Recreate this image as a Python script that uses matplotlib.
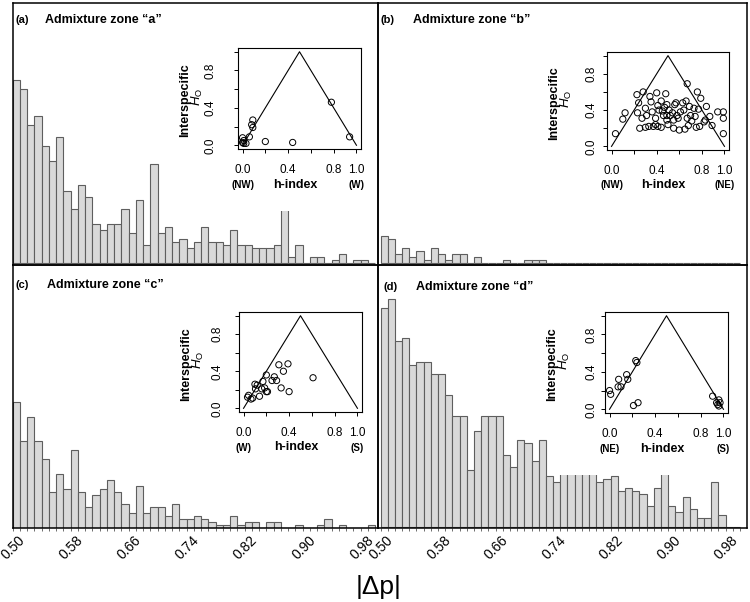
import numpy as np
import matplotlib
matplotlib.use("Agg")
import matplotlib.pyplot as plt
from matplotlib import transforms

plt.rcParams['font.family'] = ['Liberation Sans', 'DejaVu Sans']
plt.rcParams['mathtext.fontset'] = 'custom'
plt.rcParams['mathtext.rm'] = 'Liberation Sans'
plt.rcParams['mathtext.it'] = 'Liberation Sans:italic'

W, H = 750, 602

# |delta p| bins, 0.01 wide, from 0.50
bin_left = np.round(0.50 + 0.01 * np.arange(50), 2)

counts_a = [61, 58, 46, 49, 39, 34, 42, 24, 18, 26,
            22, 13, 11, 13, 13, 18, 10, 21, 6, 33,
            10, 12, 7, 8, 5, 7, 12, 7, 7, 6,
            11, 6, 6, 5, 5, 5, 6, 19, 2, 6,
            0, 2, 2, 0, 1, 3, 0, 1, 1, 0]
counts_b = [9, 8, 3, 5, 2, 4, 1, 5, 3, 1,
            3, 3, 0, 2, 0, 0, 0, 1, 0, 0,
            1, 1, 1, 0, 0, 0, 0, 0, 0, 0,
            0, 0, 0, 0, 0, 0, 0, 0, 0, 0,
            0, 0, 0, 0, 0, 0, 0, 0, 0, 0]
counts_c = [42, 29, 37, 29, 23, 12, 18, 13, 26, 12,
            7, 11, 13, 16, 12, 8, 5, 14, 5, 7,
            7, 4, 8, 3, 3, 4, 3, 2, 1, 1,
            4, 1, 2, 2, 0, 2, 2, 0, 0, 1,
            0, 0, 1, 3, 0, 1, 0, 0, 0, 1]
counts_d = [73, 76, 62, 63, 54, 55, 55, 51, 51, 44,
            37, 37, 19, 32, 37, 37, 37, 24, 20, 29,
            28, 22, 29, 17, 15, 21, 22, 21, 22, 20,
            15, 16, 17, 12, 13, 12, 11, 7, 13, 22,
            7, 5, 10, 6, 3, 3, 15, 4, 0, 0]

# triangle plots: h-index vs interspecific heterozygosity
h_a = [0.00, 0.01, 0.03, 0.01, 0.00, 0.06, 0.08, 0.09, 0.09, 0.20, 0.44, 0.78, 0.94]
ho_a = [0.03, 0.02, 0.02, 0.05, 0.08, 0.09, 0.22, 0.27, 0.19, 0.04, 0.03, 0.46, 0.09]

h_b = [0.035, 0.10, 0.12, 0.25, 0.225, 0.24, 0.23, 0.28, 0.27, 0.30, 0.31, 0.30, 0.33,
       0.34, 0.35, 0.36, 0.37, 0.39, 0.40, 0.41, 0.42, 0.44, 0.45, 0.46, 0.44, 0.48,
       0.49, 0.49, 0.49, 0.51, 0.52, 0.54, 0.55, 0.56, 0.57, 0.59, 0.61, 0.63, 0.64,
       0.65, 0.66, 0.67, 0.68, 0.67, 0.69, 0.70, 0.71, 0.73, 0.75, 0.76, 0.77, 0.78,
       0.79, 0.83, 0.84, 0.87, 0.89, 0.94, 0.99, 0.99, 0.99, 0.41, 0.39, 0.47, 0.50,
       0.58, 0.55, 0.74, 0.60, 0.82]
ho_b = [0.14, 0.30, 0.37, 0.20, 0.57, 0.48, 0.37, 0.60, 0.31, 0.42, 0.34, 0.21, 0.22,
        0.55, 0.49, 0.38, 0.22, 0.31, 0.59, 0.45, 0.40, 0.50, 0.39, 0.34, 0.21, 0.58,
        0.46, 0.34, 0.29, 0.40, 0.34, 0.37, 0.20, 0.46, 0.48, 0.31, 0.38, 0.48, 0.40,
        0.19, 0.50, 0.31, 0.23, 0.69, 0.44, 0.34, 0.28, 0.42, 0.21, 0.60, 0.41, 0.22,
        0.53, 0.29, 0.44, 0.33, 0.23, 0.38, 0.38, 0.31, 0.14, 0.22, 0.24, 0.43, 0.24,
        0.34, 0.29, 0.33, 0.18, 0.27]

h_c = [0.044, 0.065, 0.08, 0.10, 0.12, 0.105, 0.14, 0.16, 0.17, 0.185, 0.20, 0.20,
       0.21, 0.25, 0.27, 0.29, 0.31, 0.33, 0.35, 0.39, 0.40, 0.61, 0.035]
ho_c = [0.14, 0.10, 0.11, 0.26, 0.25, 0.21, 0.13, 0.21, 0.29, 0.22, 0.36, 0.18,
        0.18, 0.30, 0.34, 0.30, 0.47, 0.22, 0.40, 0.48, 0.18, 0.33, 0.12]

h_d = [0.00, 0.01, 0.08, 0.075, 0.10, 0.15, 0.16, 0.23, 0.24, 0.21, 0.25,
       0.905, 0.96, 0.95, 0.97, 0.96, 0.94]
ho_d = [0.20, 0.16, 0.32, 0.24, 0.24, 0.37, 0.32, 0.52, 0.50, 0.04, 0.07,
        0.14, 0.10, 0.05, 0.07, 0.035, 0.07]

tri_h = [0.0, 0.5, 1.0]
tri_ho = [0.0, 1.0, 0.0]


def box(x0, y0, x1, y1):
    # pixel box (top-left origin) -> figure fraction rect
    return [x0 / W, 1 - y1 / H, (x1 - x0) / W, (y1 - y0) / H]


fig = plt.figure(figsize=(7.5, 6.02), dpi=100)


def hist_panel(counts, frame, xlim, ylim, bottom):
    ax = fig.add_axes(box(*frame))
    ax.patch.set_alpha(0)
    ax.bar(bin_left, counts, width=0.01, align='edge', color='#d9d9d9',
           edgecolor='#5e5e5e', linewidth=0.8)
    ax.set_xlim(*xlim)
    ax.set_ylim(*ylim)
    ax.set_yticks([])
    for s in ax.spines.values():
        s.set_linewidth(1.1)
        s.set_color('black')
    if bottom:
        major = np.round(np.arange(0.50, 0.99, 0.08), 2)
        ax.set_xticks(major)
        ax.set_xticks(np.round(np.arange(0.50, 1.001, 0.01), 2), minor=True)
        ax.set_xticklabels(['%.2f' % v for v in major], rotation=45, ha='right',
                           va='top', rotation_mode='anchor', fontsize=10)
        ax.tick_params(axis='x', which='both', length=2.5, width=0.6,
                       color='#555555', pad=1)
        shift = transforms.ScaledTranslation(4 / 72, 0, fig.dpi_scale_trans)
        for lab in ax.get_xticklabels():
            lab.set_transform(lab.get_transform() + shift)
    else:
        ax.set_xticks([])
    return ax


def inset(axbox, bgbox, h, ho, left_tag, right_tag, ypad):
    bg = fig.add_axes(box(*bgbox))
    bg.set_xticks([])
    bg.set_yticks([])
    for s in bg.spines.values():
        s.set_visible(False)
    ax = fig.add_axes(box(*axbox))
    ax.plot(tri_h, tri_ho, color='black', linewidth=0.8)
    ax.scatter(h, ho, s=20, facecolors='none', edgecolors='black', linewidths=0.7)
    ax.set_xlim(-0.04, 1.04)
    ax.set_ylim(-0.04, 1.04)
    ticks = [0.0, 0.2, 0.4, 0.6, 0.8, 1.0]
    ax.set_xticks(ticks)
    ax.set_xticklabels(['0.0', '', '0.4', '', '0.8', '1.0'])
    ax.set_yticks(ticks)
    ax.set_yticklabels(['0.0', '', '0.4', '', '0.8', ''])
    ax.tick_params(axis='x', length=3, width=0.7, labelsize=8.5, pad=8)
    ax.tick_params(axis='y', length=3, width=0.7, labelsize=8.5, pad=ypad,
                   labelrotation=90)
    for lab in ax.get_yticklabels():
        lab.set_va('center')
    for s in ax.spines.values():
        s.set_linewidth(0.8)
    tr = transforms.blended_transform_factory(ax.transData, ax.transAxes)
    ax.text(0.0, -0.36, left_tag, transform=tr, ha='center', va='center',
            fontsize=7, fontweight='bold')
    ax.text(1.0, -0.36, right_tag, transform=tr, ha='center', va='center',
            fontsize=7, fontweight='bold')
    ax.text(0.46, -0.355, 'h-index', transform=tr, ha='center', va='center',
            fontsize=9, fontweight='bold')
    ax.text(-0.43, 0.48, 'Interspecific', transform=ax.transAxes, rotation=90,
            ha='center', va='center', fontsize=9, fontweight='bold')
    ax.text(-0.33, 0.52, r'$H_{\mathrm{O}}$', transform=ax.transAxes, rotation=90,
            ha='center', va='center', fontsize=9.5)
    return ax


xl_left = (0.50, 1.0039)
xl_right = (0.4965, 1.0097)

hist_panel(counts_a, (12.7, 2.7, 378, 265), xl_left, (-0.57, 86.9), False)
hist_panel(counts_b, (378, 2.7, 747, 265), xl_right, (-0.57, 86.9), False)
hist_panel(counts_c, (12.7, 265, 378, 528), xl_left, (-0.1, 87.6), True)
hist_panel(counts_d, (378, 265, 747, 528), xl_right, (-0.17, 87.5), True)

inset((238, 48, 361, 149), (188, 42, 373, 211), h_a, ho_a, '(NW)', '(W)', 12.5)
inset((607, 52, 729, 150), (557, 46, 741, 211), h_b, ho_b, '(NW)', '(NE)', 4)
inset((239, 312, 362, 412), (189, 306, 374, 475), h_c, ho_c, '(W)', '(S)', 8.5)
inset((605, 312, 728, 413), (555, 306, 740, 475), h_d, ho_d, '(NE)', '(S)', 2.5)

titles = [('(a)', 'Admixture zone \u201ca\u201d', 15, 45, 20),
          ('(b)', 'Admixture zone \u201cb\u201d', 380, 413, 20),
          ('(c)', 'Admixture zone \u201cc\u201d', 16, 47, 285),
          ('(d)', 'Admixture zone \u201cd\u201d', 383, 416, 287)]
for tag, name, xt, xn, y in titles:
    fig.text(xt / W, 1 - y / H, tag, ha='left', va='center', fontsize=8,
             fontweight='bold')
    fig.text(xn / W, 1 - y / H, name, ha='left', va='center', fontsize=9,
             fontweight='bold')

fig.text(379 / W, 1 - 587 / H, '|\u0394p|', ha='center', va='center', fontsize=19)

fig.savefig('out.png', dpi=100, facecolor='white')
